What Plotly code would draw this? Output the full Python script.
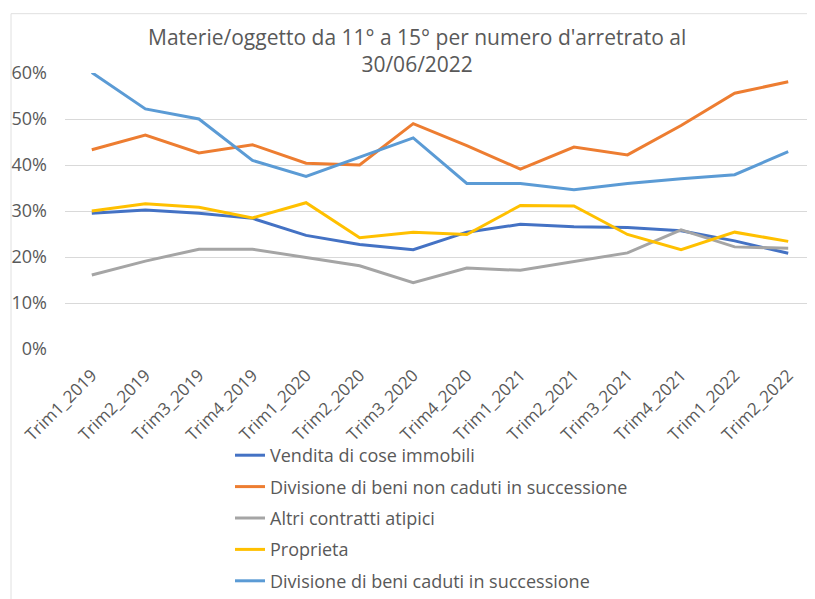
import plotly.graph_objects as go

categories = ["Trim1_2019", "Trim2_2019", "Trim3_2019", "Trim4_2019",
              "Trim1_2020", "Trim2_2020", "Trim3_2020", "Trim4_2020",
              "Trim1_2021", "Trim2_2021", "Trim3_2021", "Trim4_2021",
              "Trim1_2022", "Trim2_2022"]

vendita = [0.295, 0.302, 0.295, 0.284, 0.247, 0.227, 0.216, 0.254,
           0.271, 0.266, 0.264, 0.257, 0.235, 0.208]
div_non_caduti = [0.433, 0.465, 0.426, 0.444, 0.404, 0.400, 0.490, 0.442,
                  0.391, 0.439, 0.422, 0.486, 0.556, 0.581]
altri = [0.161, 0.191, 0.217, 0.217, 0.199, 0.181, 0.144, 0.176,
         0.171, 0.190, 0.209, 0.259, 0.222, 0.219]
proprieta = [0.300, 0.316, 0.308, 0.285, 0.318, 0.242, 0.254, 0.249,
             0.312, 0.311, 0.249, 0.216, 0.254, 0.234]
div_caduti = [0.601, 0.522, 0.500, 0.410, 0.375, 0.417, 0.459, 0.360,
              0.360, 0.346, 0.360, 0.370, 0.379, 0.429]

series = [
    ("Vendita di cose immobili", vendita, "#4472C4"),
    ("Divisione di beni non caduti in successione", div_non_caduti, "#ED7D31"),
    ("Altri contratti atipici", altri, "#A5A5A5"),
    ("Proprieta", proprieta, "#FFC000"),
    ("Divisione di beni caduti in successione", div_caduti, "#5B9BD5"),
]

fig = go.Figure()
for i, (name, vals, col) in enumerate(series):
    fig.add_trace(go.Scatter(x=categories, y=vals, name=name, mode="lines",
                             line=dict(color=col, width=3),
                             legendgroup=f"g{i}"))

font_family = "Open Sans, Lato, Liberation Sans, sans-serif"
fig.update_layout(
    width=807, height=591,
    margin=dict(l=57, r=0, t=65, b=247),
    paper_bgcolor="white", plot_bgcolor="white",
    font=dict(family=font_family, color="#595959"),
    title=dict(text="Materie/oggetto da 11° a 15° per numero d'arretrato al<br>30/06/2022",
               x=0.507, xanchor="center", xref="container", y=0.938, yanchor="top",
               yref="container",
               font=dict(size=21, color="#595959", family=font_family)),
    legend=dict(x=0.22, y=-0.319, xanchor="left", yanchor="top",
                orientation="v", font=dict(size=18, color="#595959"),
                tracegroupgap=5, itemwidth=30, bgcolor="rgba(0,0,0,0)"),
    showlegend=True,
)
fig.update_xaxes(type="category", range=[-0.5, 13.5], tickangle=-45,
                 showgrid=False, showline=False,
                 ticks="", tickfont=dict(size=17, color="#595959"),
                 ticklabelstandoff=12, automargin=False)
fig.update_yaxes(range=[0, 0.6], dtick=0.1, tickformat=".0%", showgrid=True,
                 gridcolor="#D9D9D9", gridwidth=1, zeroline=False, showline=False,
                 ticks="", tickfont=dict(size=18, color="#595959"),
                 ticklabelstandoff=17, automargin=False)
# chart-area border: left and top edges visible in the reference
fig.add_shape(type="line", xref="paper", yref="paper", x0=-0.072, x1=-0.072,
              y0=-1.0, y1=1.215, line=dict(color="#E0E0E0", width=1), layer="below")
fig.add_shape(type="line", xref="paper", yref="paper", x0=-0.072, x1=1.3,
              y0=1.215, y1=1.215, line=dict(color="#E0E0E0", width=1), layer="below")

fig.write_html("out.html")
